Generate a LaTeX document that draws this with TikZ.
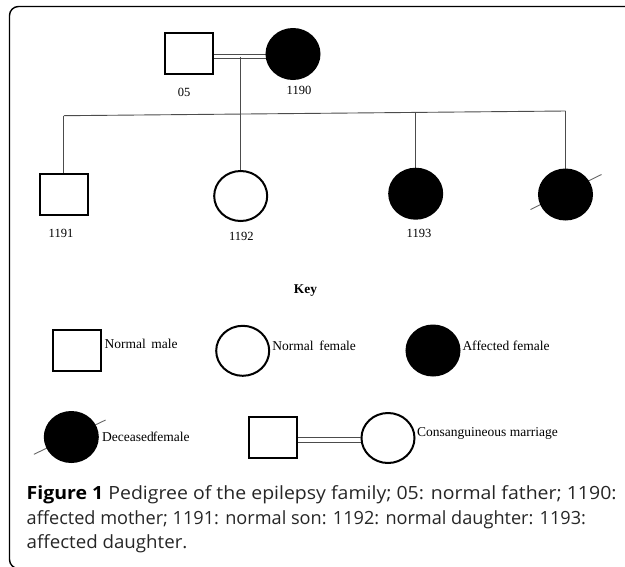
\documentclass[tikz,border=0pt]{standalone}
\usepackage{fontspec}
\usepackage{graphicx}
\setmainfont{Liberation Serif}
\newfontfamily\capfont[FakeStretch=1.06]{Open Sans}
\usetikzlibrary{shapes.geometric,backgrounds}
\begin{document}
\begin{tikzpicture}[x=1pt,y=-1pt,
  sq/.style={draw, line width=2pt, minimum width=48pt, minimum height=41pt, inner sep=0pt},
  fem/.style={ellipse, draw, line width=2pt, minimum width=53pt, minimum height=50pt, inner sep=0pt},
  aff/.style={fem, fill=black},
  lbl/.style={font=\fontsize{12.5}{14}\selectfont, anchor=base, inner sep=0pt},
  keytxt/.style={font=\fontsize{13.5}{15}\selectfont, anchor=base west, inner sep=0pt},
  conn/.style={draw=black!70, line width=0.9pt},
  slash/.style={draw=black!60, line width=0.9pt},
  captxt/.style={font=\capfont\fontsize{18.2}{20}\selectfont, anchor=base west, inner sep=0pt, text=black!85}]
\useasboundingbox (0,0) rectangle (625,566);
% frame
\draw[line width=1.4pt, rounded corners=9pt] (640,6.5) -- (9.5,6.5) -- (9.5,568.5) -- (60,568.5);

% generation I
\node[sq] (father) at (188.5,53.7) {};
\node[aff] (mother) at (293,54) {};
\node[lbl] (l05) at (184,96.7) {05};
\node[lbl] (l1190) at (299,94.3) {1190};

% generation II
\node[sq] (s1) at (63.8,194) {};
\node[fem] (c2) at (240.7,196) {};
\node[aff] (c3) at (415.7,193.7) {};
\node[aff] (c4) at (565.5,194.5) {};
\node[lbl] (l1191) at (61,237.3) {1191};
\node[lbl] (l1192) at (241.3,240) {1192};
\node[lbl] (l1193) at (419,237.3) {1193};

\coordinate (m) at (240.7,56.5);
\coordinate (sl) at (63.8,115.7);
\coordinate (sr) at (565.5,111);
\coordinate (d3) at (415.7,112.4);

\begin{scope}[on background layer]
\draw[conn] ([yshift=-0.6pt]father.east) -- ([yshift=-0.6pt]father.east -| mother.center);
\draw[conn] ([yshift=-5pt]father.east) -- ([yshift=-5pt]father.east -| mother.center);
\draw[conn] (m) -- (c2.north);
\draw[conn] (sl) -- (sr);
\draw[conn] (sl) -- (s1.north);
\draw[conn] (d3) -- (c3.north);
\draw[conn] (sr) -- (c4.center);
\draw[slash] ([shift={(-35,15)}]c4.center) -- ([shift={(36,-20)}]c4.center);
\end{scope}

% key
\node[font=\bfseries\fontsize{13.4}{15}\selectfont, anchor=base, inner sep=0pt] (key) at (305.5,293.3) {Key};

\node[sq] (ksq) at (76.7,350) {};
\node[keytxt] (tmale) at (104.4,348.3) {Normal\,  male};
\node[fem] (kfem) at (242.7,350.8) {};
\node[keytxt] (tfem) at (272.2,350.7) {Normal\,  female};
\node[aff] (kaff) at (433,350.5) {};
\node[keytxt] (taff) at (462.3,350) {Affected female};

\node[aff] (kdec) at (71.3,437) {};
\begin{scope}[on background layer]
\draw[slash] ([shift={(-37.4,17.3)}]kdec.center) -- ([shift={(34.3,-17)}]kdec.center);
\end{scope}
\node[keytxt] (tdec) at (102,441.7) {Deceased\kern-1pt female};

\node[sq] (kcs) at (273.3,437.8) {};
\node[fem] (kcc) at (388,438) {};
\draw[conn] ([yshift=0.2pt]kcs.east) -- ([yshift=0.2pt]kcs.east -| kcc.west);
\draw[conn] ([yshift=-4.2pt]kcs.east) -- ([yshift=-4.2pt]kcs.east -| kcc.west);
\node[keytxt] (tcons) at (417,436) {Consanguineous marriage};

% caption
\node[captxt] (cap1) at (26.5,499.3) {\scalebox{1.01}[1]{{\bfseries\color{black}Figure 1} Pedigree of the epilepsy family; 05: normal father; 1190:}};
\node[captxt] (cap2) at (26.5,524) {\scalebox{0.94}[1]{affected mother; 1191: normal son: 1192: normal daughter: 1193:}};
\node[captxt] (cap3) at (26.5,548.5) {\scalebox{0.97}[1]{affected daughter.}};
\end{tikzpicture}
\end{document}
